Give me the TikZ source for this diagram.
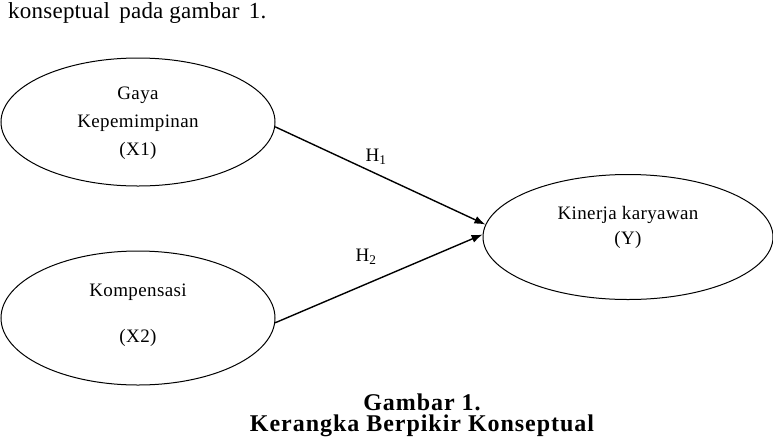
\documentclass[tikz,border=0pt]{standalone}
\usepackage{fontspec}
\setmainfont{Liberation Serif}
\usetikzlibrary{shapes.geometric,arrows.meta}
\begin{document}
\begin{tikzpicture}[x=1pt,y=-1pt,
  var/.style={draw,ellipse,line width=1pt,inner sep=0pt},
  lbl/.style={font=\fontsize{19}{21}\selectfont\addfontfeature{LetterSpace=2},inner sep=0pt},
  hyp/.style={font=\fontsize{19}{21}\selectfont,inner sep=0pt},
  conn/.style={line width=1.4pt,-{Latex[length=11pt,width=8pt]}},
  captext/.style={font=\fontsize{24}{21}\bfseries\selectfont\addfontfeature{LetterSpace=4},inner sep=0pt,align=center,anchor=base}]
\useasboundingbox (0,0) rectangle (773,445);
% ellipses
\node[var,minimum width=274pt,minimum height=128pt] (e1) at (138,122) {};
\node[var,minimum width=274pt,minimum height=134pt] (e2) at (138,318) {};
\node[var,minimum width=290pt,minimum height=125pt] (e3) at (628,237) {};
% ellipse texts
\node[lbl] (t1a) at (138,95) {Gaya};
\node[lbl] (t1b) at (138,123) {Kepemimpinan};
\node[lbl] (t1c) at (138,151) {(X1)};
\node[lbl] (t2a) at (138,292) {Kompensasi};
\node[lbl] (t2b) at (138,338) {(X2)};
\node[lbl] (t3a) at (628,215) {Kinerja karyawan};
\node[lbl] (t3b) at (628,240) {(Y)};
% connectors
\draw[conn] (e1.-2) -- (e3.175);
\draw[conn] (e2.-2) -- (e3.179);
\node[hyp] (h1) at (376,157) {H\textsubscript{1}};
\node[hyp] (h2) at (366,257) {H\textsubscript{2}};
% running text
\node[font=\fontsize{23}{25}\selectfont\addfontfeature{LetterSpace=1},inner sep=0pt,anchor=base west] (top) at (8,18.5) {konseptual\hspace{0.15em} pada gambar\hspace{0.15em} 1.};
% caption
\node[captext] (cap1) at (422,431) {Gambar 1.\hspace{0.3em}\\Kerangka Berpikir Konseptual};
\end{tikzpicture}
\end{document}
